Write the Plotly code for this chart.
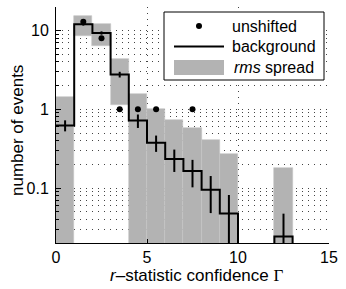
import math
import plotly.graph_objects as go

# ---- data ----
bin_left = [0, 1, 2, 3, 4, 5, 6, 7, 8, 9, 10, 11, 12, 13, 14]
bin_center = [0.5, 1.5, 2.5, 3.5, 4.5, 5.5, 6.5, 7.5, 8.5, 9.5, 10.5, 11.5, 12.5, 13.5, 14.5]
background = [0.625, 12.1, 9.35, 2.77, 0.72, 0.376, 0.234, 0.165, 0.095, 0.0475, 0, 0, 0.0242, 0, 0]
bg_error = [0.10, 0.50, 0.45, 0.23, 0.14, 0.088, 0.074, 0.063, 0.047, 0.034, 0, 0, 0.023, 0, 0]
rms_spread = [0.80, 3.45, 2.90, 1.63, 0.83, 0.62, 0.49, 0.41, 0.31, 0.22, 0, 0, 0.155, 0, 0]
unshifted = [0, 13, 8, 1, 1, 1, 0, 1, 0, 0, 0, 0, 0, 0, 0]

x_ticks = [0, 5, 10, 15]
x_range = [0, 15]
y_range = [0.02, 20]

FLOOR = 1e-4  # stand-in for zero on the log axis (below visible range)
FONT = "Liberation Sans"
GREY = "#b3b3b3"
DOT = "1px,5px"

fig = go.Figure()

# rms spread (grey boxes)
rb, rh, rx = [], [], []
for c, b, r in zip(bin_center, background, rms_spread):
    if r > 0:
        lo = b - r
        hi = b + r
        lo = lo if lo > 0 else FLOOR
        rx.append(c)
        rb.append(lo)
        rh.append(hi - lo)
fig.add_trace(go.Bar(x=rx, y=rh, base=rb, width=1, marker=dict(color=GREY, line=dict(color="#c4c4c4", width=0.6)),
                     showlegend=False, hoverinfo="skip"))

# background step line
step_x = bin_left + [bin_left[-1] + 1]
step_y = [v if v > 0 else FLOOR for v in background]
step_y = step_y + [step_y[-1]]
fig.add_trace(go.Scatter(x=step_x, y=step_y, mode="lines", line=dict(color="black", width=2, shape="hv"),
                         showlegend=False, hoverinfo="skip"))

# error bars on background
ex, ey = [], []
for c, b, e in zip(bin_center, background, bg_error):
    if b > 0:
        lo = b - e
        ex += [c, c, None]
        ey += [lo if lo > 0 else FLOOR, b + e, None]
fig.add_trace(go.Scatter(x=ex, y=ey, mode="lines", line=dict(color="black", width=2),
                         showlegend=False, hoverinfo="skip"))

# unshifted points
ux = [c for c, u in zip(bin_center, unshifted) if u > 0]
uy = [u for u in unshifted if u > 0]
fig.add_trace(go.Scatter(x=ux, y=uy, mode="markers", marker=dict(color="black", size=6),
                         showlegend=False, hoverinfo="skip"))

# ---- manual legend (pixel positions converted to paper) ----
L, R, T, B = 56, 329, 7, 243
W, H = R - L, B - T
px = lambda x: (x - L) / W
py = lambda y: (B - y) / H

shapes = [
    dict(type="rect", xref="paper", yref="paper", x0=px(164), x1=px(324), y0=py(80), y1=py(12),
         fillcolor="white", line=dict(color="black", width=1)),
    dict(type="circle", xref="paper", yref="paper", xsizemode="pixel", ysizemode="pixel",
         xanchor=px(199), yanchor=py(26), x0=-3, x1=3, y0=-3, y1=3,
         fillcolor="black", line=dict(color="black", width=0)),
    dict(type="line", xref="paper", yref="paper", x0=px(174), x1=px(224), y0=py(46.5), y1=py(46.5),
         line=dict(color="black", width=2)),
    dict(type="rect", xref="paper", yref="paper", x0=px(174), x1=px(224), y0=py(75), y1=py(60),
         fillcolor=GREY, line=dict(width=0)),
]
annotations = [
    dict(text="unshifted", x=px(230), y=py(26), xref="paper", yref="paper", xanchor="left", yanchor="middle",
         showarrow=False, font=dict(family=FONT, size=16, color="black")),
    dict(text="background", x=px(230), y=py(46.5), xref="paper", yref="paper", xanchor="left", yanchor="middle",
         showarrow=False, font=dict(family=FONT, size=16, color="black")),
    dict(text="<i>rms</i> spread", x=px(232), y=py(67.5), xref="paper", yref="paper", xanchor="left",
         yanchor="middle", showarrow=False, font=dict(family=FONT, size=16, color="black")),
    dict(text="<i>r</i>–statistic confidence <span style='font-family:Liberation Serif'>Γ</span>",
         x=px(196), y=py(275), xref="paper", yref="paper", xanchor="center", yanchor="middle",
         showarrow=False, font=dict(family=FONT, size=17, color="black")),
    dict(text="number of events", x=px(17), y=py(131), xref="paper", yref="paper", xanchor="center",
         yanchor="middle", textangle=-90, showarrow=False, font=dict(family=FONT, size=17, color="black")),
]

fig.update_layout(
    width=346, height=289,
    margin=dict(l=L, r=346 - R, t=T, b=289 - B, autoexpand=False),
    paper_bgcolor="white", plot_bgcolor="white",
    bargap=0, showlegend=False,
    font=dict(family=FONT, size=16, color="black"),
    shapes=shapes, annotations=annotations,
    xaxis=dict(range=x_range, tickvals=x_ticks, ticks="inside", ticklen=4, tickcolor="black",
               showline=True, linecolor="black", linewidth=1, mirror=False, zeroline=False,
               showgrid=True, gridcolor="#444", gridwidth=1, griddash=DOT, automargin=False,
               tickfont=dict(family=FONT, size=16)),
    yaxis=dict(type="log", range=[math.log10(y_range[0]), math.log10(y_range[1])],
               dtick=1, ticks="inside", ticklen=5, tickcolor="black",
               showline=True, linecolor="black", linewidth=1, mirror=False, zeroline=False,
               showgrid=True, gridcolor="#444", gridwidth=1, griddash=DOT, automargin=False,
               minor=dict(dtick="D1", ticks="inside", ticklen=3, tickcolor="black",
                          showgrid=True, gridcolor="#444", gridwidth=1, griddash=DOT),
               ticklabelstandoff=3, tickfont=dict(family=FONT, size=16)),
)

fig.write_html("out.html", config={"displayModeBar": False},
               post_script="document.body.style.margin='0px';")
